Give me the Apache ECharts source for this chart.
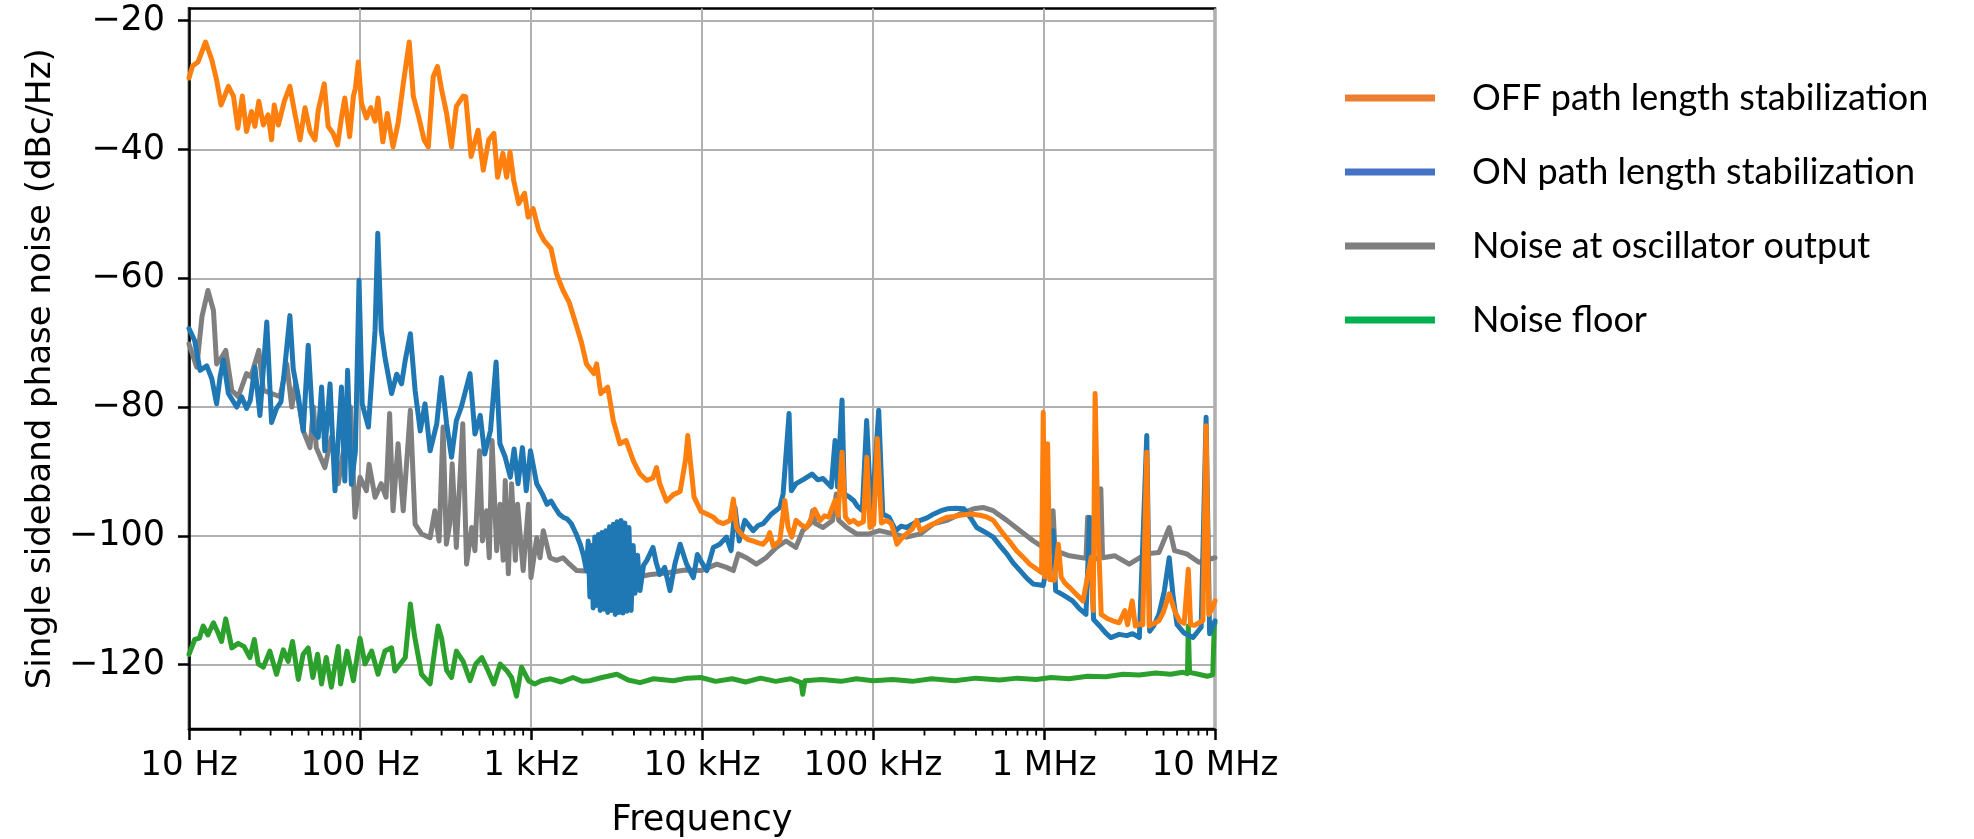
<!DOCTYPE html>
<html>
<head>
<meta charset="utf-8">
<script src="https://cdn.jsdelivr.net/npm/echarts@6/dist/echarts.min.js"></script>
<style>
html,body{margin:0;padding:0;background:#fff;}
#chart{width:1974px;height:839px;}
</style>
</head>
<body>
<div id="chart"></div>
<script>
// ---------- DATA ----------
const seriesNames = ['OFF path length stabilization', 'ON path length stabilization', 'Noise at oscillator output', 'Noise floor'];
const xTickLabels = ['10 Hz', '100 Hz', '1 kHz', '10 kHz', '100 kHz', '1 MHz', '10 MHz'];
const yTicks = [-120, -100, -80, -60, -40, -20];
const minorTicks = [20,30,40,50,60,70,80,90,200,300,400,500,600,700,800,900,2000,3000,4000,5000,6000,7000,8000,9000,
  20000,30000,40000,50000,60000,70000,80000,90000,200000,300000,400000,500000,600000,700000,800000,900000,
  2000000,3000000,4000000,5000000,6000000,7000000,8000000,9000000];

// OFF path length stabilization (orange): [frequency Hz, dBc/Hz]
const offData = [[10,-28.9],[10.5,-27],[11.3,-26.4],[12.5,-23.3],[13.6,-26.1],[14.5,-29.2],[15.4,-33.1],[17,-30.2],[18.2,-31.7],[19.3,-36.7],[20.5,-31.7],[21.7,-37.2],[23.2,-34.1],[24.3,-36.4],[25.6,-32.5],[27.2,-36.2],[29,-34.6],[30.4,-38.5],[31.5,-33.1],[33.3,-36.2],[36.1,-32.5],[38.9,-30.2],[41.6,-34.4],[44.6,-38.5],[47.7,-33.5],[51,-37.2],[54.6,-38.5],[57,-33.9],[61.8,-29.8],[65.1,-36.4],[69.6,-37.5],[73.9,-39.3],[77.9,-35.1],[81.5,-32],[87,-38],[91.5,-31.7],[94,-30.5],[97.7,-26.4],[102,-32.8],[109,-35.1],[115.6,-33.5],[122.5,-35.6],[127.5,-32],[136,-38.8],[144.5,-34.4],[156,-39.6],[167,-35.9],[179,-29.8],[194,-23.3],[205,-31.7],[219,-34.6],[237,-38.5],[251,-39.6],[268,-28.7],[284,-27.1],[300,-30.7],[321,-34.4],[343,-39.6],[366,-33.3],[401,-31.7],[415,-31.8],[446,-41.1],[490,-37],[526,-43.2],[566,-38.5],[607,-37.5],[638,-44.3],[685,-40.6],[720,-44.3],[754,-40.4],[792,-44.8],[848,-48.4],[917,-46.8],[962,-50.5],[1030,-49.2],[1110,-52.6],[1190,-54.1],[1310,-55.4],[1410,-59.3],[1540,-61.9],[1670,-63.7],[1830,-67.1],[1970,-69.9],[2110,-73.3],[2330,-74.8],[2420,-73.3],[2560,-77.9],[2810,-76.9],[3030,-82.1],[3310,-85.7],[3600,-85.2],[3960,-88.3],[4340,-90.4],[4760,-91.4],[5170,-91],[5420,-89.4],[5660,-91.9],[6200,-94.6],[6800,-93.6],[7450,-93.1],[8000,-88.3],[8260,-84.4],[8580,-88.8],[8990,-94],[9860,-96.2],[10700,-96.6],[11650,-97.1],[12400,-97.8],[13330,-98.1],[14600,-97.6],[15250,-94.3],[15900,-98.7],[16600,-99.4],[17400,-100],[18600,-100.6],[19900,-100.8],[21300,-101.1],[22800,-101.3],[24000,-100.6],[24900,-99.5],[26100,-101.6],[28500,-100.8],[30500,-94.5],[31900,-98.7],[33500,-100.2],[35500,-97.6],[38000,-98.3],[40900,-98.7],[43000,-97.6],[45600,-95.9],[49000,-97.6],[52000,-96.9],[55000,-97.1],[60000,-94.5],[62500,-96.8],[65900,-87],[69000,-97.1],[73000,-97.9],[77000,-97.6],[82000,-98.2],[87900,-97.8],[92000,-87.8],[96000,-98.7],[101000,-98.2],[106000,-84.9],[112000,-98],[120000,-97.6],[128000,-98.1],[133000,-99.6],[138000,-101.3],[147000,-100.4],[157000,-99.7],[170000,-98.9],[180000,-97.6],[189000,-99.2],[207000,-98.6],[227000,-98.1],[250000,-97.5],[272000,-97.1],[297000,-97],[323000,-96.8],[370000,-96.6],[424000,-96.8],[465000,-97.1],[505000,-97.6],[578000,-99.7],[630000,-100.9],[691000,-102.3],[760000,-103.4],[826000,-104.4],[900000,-105.1],[968000,-105.7],[990000,-80.8],[1010000,-106.4],[1050000,-85.7],[1080000,-106.8],[1150000,-106.9],[1213000,-101.3],[1260000,-106.4],[1330000,-107.4],[1410000,-108],[1550000,-109.1],[1690000,-110.1],[1890000,-103.3],[1940000,-111.6],[1990000,-77.9],[2060000,-97.1],[2160000,-112.2],[2330000,-112.8],[2520000,-113.2],[2750000,-113.5],[2970000,-111.6],[3080000,-113.8],[3280000,-110.1],[3420000,-114],[3600000,-113.7],[3780000,-113.8],[3990000,-87],[4120000,-114],[4400000,-113.6],[4700000,-113.2],[5000000,-111.8],[5400000,-109],[5800000,-111.6],[6200000,-113.2],[6600000,-113.6],[6980000,-105.2],[7200000,-113.8],[7600000,-113.9],[8050000,-113.5],[8500000,-113.2],[8870000,-82.9],[9200000,-112.2],[9600000,-111.4],[10000000,-110.1]];

// ON path length stabilization (blue)
const onData = [[10,-67.8],[10.8,-69.7],[11.6,-74.3],[12.7,-73.6],[13.6,-75.6],[14.5,-79.5],[15.2,-75.3],[15.9,-72.7],[17,-77.9],[19,-80],[20.3,-78.4],[21.7,-80.2],[22.8,-79],[24.3,-73.8],[26,-81.3],[28.5,-66.8],[30.4,-82.4],[32.5,-80.2],[34.5,-79.2],[36.4,-73.6],[38.9,-65.8],[40.7,-74.1],[43.6,-78.4],[46.6,-83.7],[49.8,-70.4],[53.3,-83.7],[57,-84.7],[59.6,-76.9],[62.3,-86.8],[66.8,-76.4],[71.4,-93],[77.9,-76.9],[81.5,-91.5],[84.6,-74.3],[89,-92],[94,-86.8],[98.7,-60.3],[103,-79.5],[112,-83.1],[122.5,-68.1],[127,-53],[133,-68],[140,-72.3],[153,-77.9],[164,-74.9],[175,-76.4],[184,-72.7],[197,-68.6],[210,-77.4],[225,-83.7],[240,-79.5],[257,-86.8],[281,-82.6],[300,-75.4],[321,-82.6],[343,-87.8],[366,-82.1],[391,-80],[440,-74.8],[470,-84.2],[505,-81.3],[536,-87.3],[580,-83.6],[625,-73],[658,-85.7],[707,-87.8],[757,-90.9],[797,-86.5],[840,-91.9],[891,-86.3],[938,-93],[993,-86.8],[1080,-91.9],[1160,-93.4],[1240,-95.1],[1310,-94.6],[1380,-95.6],[1460,-96.6],[1540,-97.1],[1630,-97.4],[1720,-98.1],[1830,-99.6],[1940,-101.3],[2030,-103.1],[2110,-105.4],[2160,-100.8],[2210,-109.5],[2260,-101.5],[2310,-111.2],[2360,-100.2],[2420,-110.8],[2480,-99.8],[2540,-111.6],[2600,-99.5],[2670,-111.4],[2740,-99.2],[2810,-111.9],[2880,-98.6],[2950,-111.6],[3030,-98.2],[3110,-112.2],[3190,-97.8],[3270,-111.9],[3360,-97.6],[3450,-112],[3540,-98],[3640,-111.7],[3740,-98.7],[3850,-111.6],[3960,-101.5],[4060,-108.9],[4200,-103],[4340,-108.5],[4550,-104.6],[4760,-103.8],[5170,-101.8],[5400,-104.2],[5660,-106],[6050,-104.9],[6500,-108.5],[6950,-104.3],[7450,-101.3],[8130,-104.4],[8900,-106.5],[9400,-102.9],[10000,-104.2],[10670,-105.4],[11650,-101.8],[12700,-101.3],[13900,-100.2],[14800,-102.3],[15600,-95.6],[16500,-100.8],[17800,-97.6],[19900,-99.2],[21300,-98.4],[22800,-98.1],[25500,-96.6],[28500,-95.6],[29800,-93.5],[32300,-81],[33300,-93],[35500,-91.9],[39500,-91.2],[44000,-90.4],[47500,-91.3],[51000,-91.1],[57000,-92.4],[60000,-85.2],[62000,-92.4],[65900,-78.9],[68000,-93.5],[72000,-93.9],[77000,-94.5],[81000,-95.4],[86600,-96.1],[91800,-82.1],[98000,-97.6],[108000,-80.5],[114000,-96.6],[124000,-97.1],[136000,-99.2],[146000,-98.5],[157000,-98.7],[172000,-98.1],[189000,-97.6],[207000,-97.2],[227000,-96.6],[250000,-96.1],[272000,-95.8],[305000,-95.7],[340000,-95.8],[370000,-97.1],[404000,-98.7],[450000,-99.4],[505000,-100.2],[555000,-101.6],[606000,-102.8],[660000,-104.2],[725000,-105.4],[795000,-106.6],[867000,-107.5],[930000,-107.6],[990000,-107.7],[1130000,-99.2],[1170000,-108.5],[1300000,-109.2],[1470000,-110.1],[1610000,-111.3],[1760000,-112.2],[1850000,-97.1],[1950000,-113],[2150000,-114.2],[2300000,-115.1],[2460000,-115.8],[2750000,-115.3],[3050000,-115.5],[3300000,-115.2],[3610000,-115.8],[3990000,-84.4],[4150000,-114.8],[4400000,-113.9],[4700000,-112.2],[5050000,-108.6],[5400000,-103.4],[5700000,-109.6],[6000000,-113.8],[6600000,-115.1],[7440000,-115.8],[8300000,-114.2],[8870000,-81.6],[9300000,-115.2],[10000000,-113.2]];

// Noise at oscillator output (grey)
const oscData = [[10,-70.2],[11.1,-73.8],[11.9,-66],[12.9,-61.9],[13.9,-65],[14.5,-73.3],[15.5,-72.3],[16.4,-71.2],[17.8,-77.4],[19.4,-78.4],[21.7,-74.8],[23,-75.3],[25.6,-71.2],[27.2,-77.4],[30.4,-77.9],[34.1,-78.4],[37.3,-73.3],[39.9,-80],[42,-76.4],[46.6,-83.7],[51,-86.3],[53.5,-80],[55.5,-86.3],[62.3,-89.4],[68,-84.7],[74.6,-91.9],[80,-86.8],[88,-80],[93.5,-97.1],[100,-90.9],[109,-93],[113,-88.9],[122.5,-94],[133,-91.9],[142,-94],[149,-81],[156,-96.1],[167,-85.7],[179,-96.1],[197,-80.5],[210,-98.2],[229,-99.7],[257,-100.3],[274,-96.1],[290,-100.8],[306,-83.1],[320,-101.3],[335,-98.1],[346,-88.8],[366,-101.8],[399,-82.6],[420,-104.4],[450,-98.7],[470,-102.3],[500,-86.8],[520,-100.8],[550,-96.1],[570,-103.4],[592,-85.2],[630,-102.3],[660,-95.1],[688,-103.8],[707,-91.4],[737,-105.9],[770,-91.9],[810,-103.8],[834,-95.1],[900,-105.4],[967,-95.1],[1000,-106.5],[1080,-100.3],[1130,-103.4],[1180,-99.2],[1290,-103.4],[1410,-103.8],[1540,-103.4],[1680,-104.4],[1850,-105.4],[2200,-105.5],[3000,-106],[4000,-106.5],[5000,-106],[6000,-105.8],[8000,-105.3],[9860,-105.4],[11000,-104.9],[12200,-104.4],[13900,-104.9],[15250,-105.4],[16300,-102.8],[18200,-103.4],[20800,-104.4],[23700,-103.4],[27200,-101.8],[31000,-100.8],[35400,-101.8],[38800,-99.2],[43000,-98.1],[44400,-96.1],[46000,-98.1],[51000,-98.7],[58000,-97.6],[61000,-93.5],[63000,-97.6],[70000,-98.7],[80000,-99.7],[95000,-99.7],[109000,-99.2],[132000,-99.7],[157000,-100.2],[189000,-99.7],[227000,-98.1],[272000,-97.6],[323000,-96.6],[388000,-95.8],[441000,-95.6],[505000,-96.1],[606000,-97.6],[725000,-99.2],[867000,-100.8],[990000,-101.8],[1100000,-102],[1130000,-96.1],[1160000,-102.3],[1410000,-103.1],[1760000,-103.5],[1800000,-97.1],[1850000,-103.9],[2100000,-103.4],[2150000,-92.7],[2200000,-103.4],[2600000,-103.1],[3150000,-104.4],[3950000,-102.8],[4700000,-102.6],[5400000,-98.7],[5800000,-102.3],[6830000,-102.8],[8050000,-104.1],[10000000,-103.4]];

// Noise floor (green)
const floorData = [[10,-118.4],[10.8,-116.1],[11.5,-115.9],[12.1,-114],[12.9,-115.4],[13.9,-113.5],[14.8,-115.1],[15.5,-116.4],[16.4,-112.9],[17.8,-117.4],[19.4,-116.7],[21,-117.2],[22.7,-118.9],[24.1,-116.1],[25.4,-119.9],[27.2,-120.4],[29.7,-117.9],[32.5,-121.5],[35.6,-117.7],[38,-119.5],[40.3,-116.4],[43.6,-122.3],[46.5,-118.4],[49.8,-117.4],[53,-122],[56.5,-118.4],[59.6,-123],[63.5,-118.9],[68,-123.5],[74.6,-117.2],[77,-123],[84,-117.9],[91.5,-122.5],[100,-115.9],[107,-119.9],[117,-117.9],[127.5,-121.5],[140,-117.9],[153,-117.4],[160,-121],[184,-118.9],[197,-110.6],[208,-115.4],[229,-121.5],[257,-123],[286,-114],[300,-115.9],[321,-120.9],[343,-122],[366,-117.9],[401,-119.5],[440,-122.5],[475,-119.9],[516,-118.9],[560,-120.9],[606,-123],[660,-119.9],[720,-120.9],[770,-122],[823,-124.9],[880,-120.4],[967,-122.5],[1050,-123],[1150,-122.5],[1300,-122.2],[1500,-122.7],[1760,-122],[2000,-122.6],[2220,-122.5],[2600,-122],[3180,-121.5],[3700,-122.4],[4340,-122.8],[5200,-122.2],[6800,-122.5],[8200,-122.1],[9860,-122],[12000,-122.6],[15000,-122.2],[18000,-122.7],[22000,-122.1],[27000,-122.6],[33000,-122.2],[38000,-122.8],[38800,-124.6],[40000,-122.5],[50000,-122.3],[65000,-122.6],[80000,-122.2],[100000,-122.5],[130000,-122.3],[170000,-122.6],[220000,-122.2],[300000,-122.5],[400000,-122.1],[550000,-122.4],[700000,-122.1],[900000,-122.3],[1100000,-122],[1400000,-122.2],[1800000,-121.8],[2300000,-121.9],[2900000,-121.5],[3600000,-121.6],[4500000,-121.3],[5500000,-121.5],[6500000,-121.2],[6900000,-121.4],[6980000,-114],[7100000,-121.2],[8000000,-121.5],[9000000,-121.8],[9700000,-121.6],[9900000,-114],[10000000,-113.5]];

// ---------- STYLE ----------
const lineColors = ['#ff7f0e', '#1f77b4', '#7f7f7f', '#2ca02c'];
const legendColors = ['#ED7D31', '#4472C4', '#7F7F7F', '#00B050'];
const Y_MIN = -130, Y_MAX = -18.1;
const FONT = 'DejaVu Sans';
const FS = 34;

const chart = echarts.init(document.getElementById('chart'), null, {renderer: 'canvas'});

function lineSeries(name, data, color, z) {
  return {
    name: name, type: 'line', data: data, showSymbol: false, symbol: 'none',
    lineStyle: {color: color, width: 5, join: 'round', cap: 'round'},
    itemStyle: {color: color},
    z: z, animation: false, silent: true, clip: true
  };
}

const option = {
  backgroundColor: '#fff',
  animation: false,
  grid: {left: 189, right: 759, top: 8.5, bottom: 110, show: true, borderColor: '#000', borderWidth: 2.5,
         containLabel: false, outerBoundsMode: 'none'},
  xAxis: {
    type: 'log', logBase: 10, min: 10, max: 10000000,
    name: 'Frequency', nameLocation: 'middle', nameGap: 74,
    nameTextStyle: {fontFamily: FONT, fontSize: 35, color: '#000'},
    axisLine: {show: true, lineStyle: {color: '#000', width: 2.5}},
    axisTick: {show: true, length: 11, lineStyle: {color: '#000', width: 2.5}},
    axisLabel: {
      fontFamily: FONT, fontSize: FS, color: '#000', margin: 20,
      formatter: v => xTickLabels[Math.round(Math.log10(v)) - 1] || ''
    },
    splitLine: {show: true, lineStyle: {color: '#b0b0b0', width: 2}},
    minorTick: {show: false}
  },
  yAxis: {
    type: 'value', min: Y_MIN, max: Y_MAX,
    name: 'Single sideband phase noise (dBc/Hz)', nameLocation: 'middle', nameGap: 130,
    nameTextStyle: {fontFamily: FONT, fontSize: 34, color: '#000'},
    axisLine: {show: true, lineStyle: {color: '#000', width: 2.5}},
    axisTick: {show: true, length: 11, customValues: yTicks, lineStyle: {color: '#000', width: 2.5}},
    axisLabel: {
      fontFamily: FONT, fontSize: 35, color: '#000', margin: 24, customValues: yTicks,
      formatter: v => (Math.abs(v % 20) < 1e-6 && v <= -20) ? '\u2212' + Math.abs(v) : ''
    },
    splitLine: {show: true, lineStyle: {color: '#b0b0b0', width: 2}}
  },
  legend: {
    orient: 'vertical', left: 1340, top: 75, itemWidth: 90, itemHeight: 7, itemGap: 38,
    icon: 'rect', selectedMode: false,
    textStyle: {fontFamily: 'Lato', fontSize: 36, color: '#000', lineHeight: 36, padding: [0, 0, 0, 32]},
    data: seriesNames.map((n, i) => ({name: n, icon: 'rect', itemStyle: {color: legendColors[i], borderWidth: 0}}))
  },
  series: [
    lineSeries(seriesNames[3], floorData, lineColors[3], 2),
    lineSeries(seriesNames[2], oscData, lineColors[2], 3),
    lineSeries(seriesNames[1], onData, lineColors[1], 4),
    lineSeries(seriesNames[0], offData, lineColors[0], 5),
    {
      type: 'custom', name: 'minorTicks', silent: true, clip: false, z: 10,
      data: minorTicks.map(v => [v, Y_MIN]),
      encode: {x: 0, y: 1},
      renderItem: function (params, api) {
        const p = api.coord([api.value(0), api.value(1)]);
        return {type: 'line', shape: {x1: p[0], y1: p[1], x2: p[0], y2: p[1] + 6.5},
                style: {stroke: '#000', lineWidth: 1.8}};
      }
    }
  ]
};
chart.setOption(option);
</script>
</body>
</html>
